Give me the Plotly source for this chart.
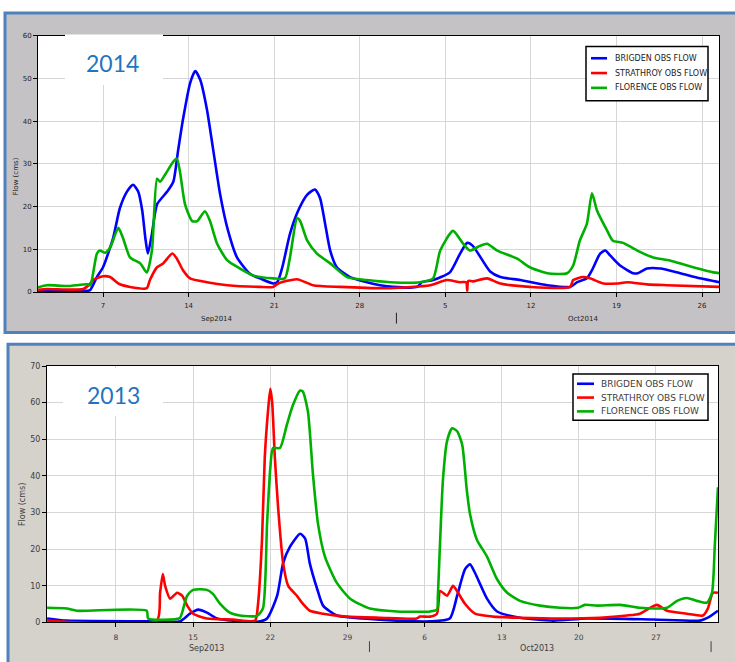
import plotly.graph_objects as go

W, H = 735, 662

# ---------------- 2014 data (flow, cms) ----------------
t14_brigden = ["2014-09-01 16:00", "2014-09-05 18:00", "2014-09-05 23:00", "2014-09-06 12:00", "2014-09-07 00:00",
               "2014-09-07 20:00", "2014-09-08 09:00", "2014-09-08 23:00", "2014-09-09 11:00", "2014-09-09 21:00",
               "2014-09-10 05:00", "2014-09-10 11:00", "2014-09-10 16:00", "2014-09-11 00:00", "2014-09-11 10:00",
               "2014-09-12 06:00", "2014-09-12 18:00", "2014-09-13 03:00", "2014-09-13 13:00", "2014-09-14 03:00",
               "2014-09-14 13:00", "2014-09-14 23:00", "2014-09-15 12:00", "2014-09-16 00:00", "2014-09-16 14:00",
               "2014-09-17 04:00", "2014-09-17 23:00", "2014-09-19 01:00", "2014-09-19 20:00", "2014-09-20 22:00",
               "2014-09-21 06:00", "2014-09-21 16:00", "2014-09-22 07:00", "2014-09-22 23:00", "2014-09-23 17:00",
               "2014-09-24 08:00", "2014-09-24 18:00", "2014-09-25 04:00", "2014-09-25 14:00", "2014-09-26 03:00",
               "2014-09-27 05:00", "2014-09-28 14:00", "2014-09-29 16:00", "2014-09-30 17:00", "2014-10-02 17:00",
               "2014-10-03 02:00", "2014-10-04 00:00", "2014-10-05 09:00", "2014-10-06 05:00", "2014-10-06 19:00",
               "2014-10-07 06:00", "2014-10-08 16:00", "2014-10-09 12:00", "2014-10-11 03:00", "2014-10-13 08:00",
               "2014-10-15 05:00", "2014-10-15 19:00", "2014-10-16 14:00", "2014-10-17 00:00", "2014-10-17 16:00",
               "2014-10-18 02:00", "2014-10-18 12:00", "2014-10-19 07:00", "2014-10-20 09:00", "2014-10-20 18:00",
               "2014-10-21 12:00", "2014-10-22 14:00", "2014-10-24 05:00", "2014-10-25 20:00", "2014-10-27 10:00"]
q14_brigden = [0.3, 0.3, 0.5, 3.5, 5.8,
               12.7, 19.6, 23.5, 25.1, 23.5,
               19.0, 12.7, 9.0, 13.6, 20.5,
               23.5, 25.8, 32.8, 40.4, 48.9,
               51.7, 49.6, 42.7, 33.5, 22.8,
               15.0, 8.1, 4.2, 3.2, 2.0,
               2.3, 5.8, 13.6, 19.0, 22.8,
               24.0, 22.0, 16.0, 9.7, 5.8,
               3.5, 2.3, 1.6, 1.2, 1.2,
               2.3, 2.8, 4.6, 9.0, 11.5,
               10.8, 4.8, 3.5, 2.8, 1.6,
               1.2, 2.3, 3.2, 5.1, 9.0,
               9.7, 8.5, 6.2, 4.4, 4.4,
               5.5, 5.5, 4.4, 3.2, 2.3]

t14_strathroy = ["2014-09-01 16:00", "2014-09-02 10:00", "2014-09-05 09:00", "2014-09-05 23:00", "2014-09-06 04:00",
                 "2014-09-07 00:00", "2014-09-07 14:00", "2014-09-08 06:00", "2014-09-09 05:00", "2014-09-10 14:00",
                 "2014-09-10 20:00", "2014-09-11 10:00", "2014-09-11 22:00", "2014-09-12 16:00", "2014-09-13 01:00",
                 "2014-09-13 13:00", "2014-09-14 03:00", "2014-09-15 12:00", "2014-09-17 04:00", "2014-09-19 20:00",
                 "2014-09-20 22:00", "2014-09-21 08:00", "2014-09-22 21:00", "2014-09-24 04:00", "2014-09-26 09:00",
                 "2014-09-30 12:00", "2014-10-03 18:00", "2014-10-05 03:00", "2014-10-06 05:00", "2014-10-06 17:00",
                 "2014-10-06 19:00", "2014-10-06 21:00", "2014-10-07 06:00", "2014-10-08 10:00", "2014-10-09 12:00",
                 "2014-10-11 22:00", "2014-10-15 05:00", "2014-10-15 11:00", "2014-10-16 06:00", "2014-10-16 20:00",
                 "2014-10-17 22:00", "2014-10-19 01:00", "2014-10-19 21:00", "2014-10-21 12:00", "2014-10-23 03:00",
                 "2014-10-27 12:00"]
q14_strathroy = [0.5, 0.7, 0.7, 2.0, 2.8,
                 3.7, 3.5, 2.0, 1.2, 0.9,
                 2.8, 5.8, 6.7, 9.0, 7.8,
                 5.1, 3.2, 2.3, 1.6, 1.2,
                 1.2, 2.0, 3.0, 1.6, 1.2,
                 0.9, 1.6, 2.8, 2.3, 2.3,
                 0.3, 2.6, 2.5, 3.2, 2.0,
                 1.2, 1.2, 2.8, 3.5, 3.2,
                 2.0, 2.0, 2.3, 1.8, 1.6,
                 1.2]

t14_florence = ["2014-09-01 16:00", "2014-09-02 10:00", "2014-09-04 01:00", "2014-09-05 17:00", "2014-09-05 23:00",
                "2014-09-06 12:00", "2014-09-06 18:00", "2014-09-07 04:00", "2014-09-07 14:00", "2014-09-08 06:00",
                "2014-09-08 15:00", "2014-09-09 05:00", "2014-09-10 01:00", "2014-09-10 14:00", "2014-09-11 00:00",
                "2014-09-11 10:00", "2014-09-11 16:00", "2014-09-12 02:00", "2014-09-12 18:00", "2014-09-13 01:00",
                "2014-09-13 07:00", "2014-09-13 17:00", "2014-09-14 07:00", "2014-09-14 17:00", "2014-09-15 08:00",
                "2014-09-15 18:00", "2014-09-16 08:00", "2014-09-17 04:00", "2014-09-18 05:00", "2014-09-19 06:00",
                "2014-09-20 22:00", "2014-09-21 21:00", "2014-09-22 07:00", "2014-09-22 21:00", "2014-09-23 03:00",
                "2014-09-23 17:00", "2014-09-24 12:00", "2014-09-25 14:00", "2014-09-26 23:00", "2014-09-28 14:00",
                "2014-09-30 12:00", "2014-10-02 22:00", "2014-10-04 00:00", "2014-10-04 14:00", "2014-10-05 15:00",
                "2014-10-06 11:00", "2014-10-07 00:00", "2014-10-07 20:00", "2014-10-08 10:00", "2014-10-09 06:00",
                "2014-10-10 21:00", "2014-10-11 22:00", "2014-10-13 08:00", "2014-10-14 23:00", "2014-10-15 11:00",
                "2014-10-16 00:00", "2014-10-16 14:00", "2014-10-17 00:00", "2014-10-17 10:00", "2014-10-18 06:00",
                "2014-10-18 17:00", "2014-10-19 13:00", "2014-10-20 17:00", "2014-10-22 00:00", "2014-10-23 09:00",
                "2014-10-24 19:00", "2014-10-26 22:00", "2014-10-27 12:00"]
q14_florence = [1.1, 1.6, 1.4, 1.8, 1.6,
                9.0, 9.7, 9.2, 10.4, 15.0,
                12.7, 8.1, 6.7, 4.6, 9.7,
                26.5, 25.8, 27.5, 30.5, 31.2,
                28.2, 20.5, 16.6, 16.6, 18.9,
                16.6, 11.3, 7.4, 5.5, 3.9,
                3.2, 3.2, 8.1, 17.3, 16.6,
                12.0, 9.0, 6.7, 3.5, 2.8,
                2.3, 2.3, 3.2, 9.7, 14.3,
                11.3, 9.7, 10.8, 11.3, 9.7,
                7.8, 5.8, 4.4, 4.4, 6.2,
                12.0, 16.0, 23.1, 19.0, 14.3,
                12.0, 11.5, 9.7, 8.1, 7.4,
                6.2, 4.6, 4.4]

# ---------------- 2013 data (flow, cms) ----------------
t13_brigden = ["2013-09-01 18:00", "2013-09-03 13:00", "2013-09-11 17:00", "2013-09-13 19:00", "2013-09-14 17:00",
               "2013-09-15 11:00", "2013-09-16 06:00", "2013-09-17 04:00", "2013-09-18 15:00", "2013-09-20 19:00",
               "2013-09-21 17:00", "2013-09-22 15:00", "2013-09-23 04:00", "2013-09-23 19:00", "2013-09-24 17:00",
               "2013-09-25 04:00", "2013-09-25 14:00", "2013-09-26 06:00", "2013-09-26 19:00", "2013-09-28 01:00",
               "2013-09-30 10:00", "2013-10-03 12:00", "2013-10-06 12:00", "2013-10-08 07:00", "2013-10-08 23:00",
               "2013-10-09 16:00", "2013-10-10 03:00", "2013-10-10 14:00", "2013-10-11 16:00", "2013-10-12 14:00",
               "2013-10-14 16:00", "2013-10-17 16:00", "2013-10-20 18:00", "2013-10-26 18:00", "2013-10-31 00:00",
               "2013-10-31 17:00", "2013-11-01 15:00"]
q13_brigden = [1.1, 0.5, 0.3, 0.3, 2.4,
               3.5, 2.7, 1.1, 0.5, 0.2,
               1.1, 7.3, 16.2, 20.7, 24.2,
               22.9, 16.2, 9.2, 4.6, 1.9,
               1.1, 0.5, 0.3, 1.1, 7.3,
               14.5, 15.9, 13.5, 6.5, 3.0,
               1.3, 0.5, 1.1, 0.8, 0.5,
               1.3, 3.2]

t13_strathroy = ["2013-09-01 18:00", "2013-09-11 17:00", "2013-09-12 00:00", "2013-09-12 06:00", "2013-09-12 11:00",
                 "2013-09-12 22:00", "2013-09-13 13:00", "2013-09-14 00:00", "2013-09-14 11:00", "2013-09-15 00:00",
                 "2013-09-16 06:00", "2013-09-18 15:00", "2013-09-20 15:00", "2013-09-20 21:00", "2013-09-21 06:00",
                 "2013-09-21 12:00", "2013-09-21 19:00", "2013-09-22 00:00", "2013-09-22 04:00", "2013-09-22 10:00",
                 "2013-09-22 17:00", "2013-09-23 04:00", "2013-09-23 15:00", "2013-09-24 10:00", "2013-09-24 21:00",
                 "2013-09-25 14:00", "2013-09-26 19:00", "2013-09-28 23:00", "2013-10-01 23:00", "2013-10-05 07:00",
                 "2013-10-05 14:00", "2013-10-06 12:00", "2013-10-07 03:00", "2013-10-07 10:00", "2013-10-08 01:00",
                 "2013-10-08 14:00", "2013-10-09 01:00", "2013-10-09 16:00", "2013-10-10 14:00", "2013-10-12 05:00",
                 "2013-10-14 16:00", "2013-10-18 07:00", "2013-10-21 22:00", "2013-10-24 09:00", "2013-10-25 13:00",
                 "2013-10-26 11:00", "2013-10-27 02:00", "2013-10-28 00:00", "2013-10-29 19:00", "2013-10-31 06:00",
                 "2013-10-31 17:00", "2013-11-01 04:00", "2013-11-01 15:00"]
q13_strathroy = [0.5, 0.5, 8.1, 13.2, 10.0,
                 6.5, 8.1, 7.3, 4.6, 2.4,
                 1.1, 0.8, 0.5, 4.6, 22.6,
                 45.0, 57.6, 63.8, 60.3, 45.0,
                 31.5, 16.2, 10.0, 7.3, 5.4,
                 3.2, 2.4, 1.6, 1.3, 1.1,
                 1.6, 1.6, 2.4, 8.6, 7.3,
                 10.0, 8.1, 5.1, 2.4, 1.6,
                 1.3, 1.1, 1.3, 1.9, 2.4,
                 4.0, 4.8, 3.2, 2.4, 1.9,
                 3.8, 8.1, 8.1]

t13_florence = ["2013-09-01 18:00", "2013-09-03 13:00", "2013-09-04 11:00", "2013-09-10 19:00", "2013-09-10 22:00",
                "2013-09-13 19:00", "2013-09-14 00:00", "2013-09-14 11:00", "2013-09-15 00:00", "2013-09-16 06:00",
                "2013-09-16 19:00", "2013-09-17 11:00", "2013-09-18 08:00", "2013-09-19 06:00", "2013-09-20 19:00",
                "2013-09-21 08:00", "2013-09-21 17:00", "2013-09-22 00:00", "2013-09-22 06:00", "2013-09-22 21:00",
                "2013-09-23 12:00", "2013-09-24 01:00", "2013-09-24 17:00", "2013-09-24 23:00", "2013-09-25 10:00",
                "2013-09-25 21:00", "2013-09-26 08:00", "2013-09-26 23:00", "2013-09-28 01:00", "2013-09-29 06:00",
                "2013-10-01 01:00", "2013-10-03 12:00", "2013-10-06 12:00", "2013-10-07 03:00", "2013-10-07 05:00",
                "2013-10-07 16:00", "2013-10-08 01:00", "2013-10-08 12:00", "2013-10-08 23:00", "2013-10-09 10:00",
                "2013-10-09 20:00", "2013-10-10 03:00", "2013-10-10 18:00", "2013-10-11 16:00", "2013-10-12 14:00",
                "2013-10-13 12:00", "2013-10-14 16:00", "2013-10-16 11:00", "2013-10-18 07:00", "2013-10-19 22:00",
                "2013-10-20 13:00", "2013-10-21 16:00", "2013-10-23 18:00", "2013-10-25 13:00", "2013-10-27 02:00",
                "2013-10-28 00:00", "2013-10-28 22:00", "2013-10-29 19:00", "2013-10-30 17:00", "2013-10-31 15:00",
                "2013-11-01 02:00", "2013-11-01 08:00", "2013-11-01 15:00"]
q13_florence = [4.0, 3.8, 3.2, 3.2, 1.1,
                1.2, 2.7, 7.3, 8.9, 8.9,
                7.8, 5.1, 2.7, 1.9, 1.8,
                3.8, 27.0, 42.0, 47.6, 47.6,
                53.9, 59.2, 63.3, 63.0, 57.6,
                40.4, 26.9, 18.0, 10.8, 6.5,
                3.8, 3.0, 3.0, 3.5, 7.3,
                38.8, 49.5, 53.0, 52.2, 48.5,
                36.1, 29.6, 22.6, 18.0, 11.8,
                8.1, 5.9, 4.6, 4.0, 4.0,
                4.8, 4.6, 4.8, 4.0, 3.8,
                4.0, 5.9, 6.7, 5.9, 5.4,
                8.1, 20.7, 36.9]

series_names = ["BRIGDEN OBS FLOW", "STRATHROY OBS FLOW", "FLORENCE OBS FLOW"]
series_colors = ["#0000ff", "#ff0000", "#00b000"]
y_ticks_2014 = [0, 10, 20, 30, 40, 50, 60]
y_ticks_2013 = [0, 10, 20, 30, 40, 50, 60, 70]


def px_x(p):
    return p / W


def px_y(p):
    return 1 - p / H


fig = go.Figure()

top_sets = [(t14_brigden, q14_brigden), (t14_strathroy, q14_strathroy), (t14_florence, q14_florence)]
bot_sets = [(t13_brigden, q13_brigden), (t13_strathroy, q13_strathroy), (t13_florence, q13_florence)]

for (t, q), name, col in zip(top_sets, series_names, series_colors):
    fig.add_trace(go.Scatter(x=t, y=q, name=name, mode="lines", xaxis="x", yaxis="y",
                             line=dict(color=col, width=2.6, shape="spline", smoothing=0.6),
                             showlegend=False))
for (t, q), name, col in zip(bot_sets, series_names, series_colors):
    fig.add_trace(go.Scatter(x=t, y=q, name=name, mode="lines", xaxis="x2", yaxis="y2",
                             line=dict(color=col, width=2.6, shape="spline", smoothing=0.6),
                             showlegend=False))

# plot area pixel geometry
TOP = dict(l=38, r=719, t=32, b=292)
BOT = dict(l=47, r=718, t=367, b=627)

ax_common = dict(showline=True, mirror=True, linecolor="#000000", linewidth=1,
                 showgrid=True, gridcolor="#d6d6d6", gridwidth=1, zeroline=False,
                 ticks="outside", ticklen=4, tickcolor="#000000")

fig.update_layout(
    width=W, height=H, autosize=False,
    margin=dict(l=0, r=0, t=0, b=0),
    paper_bgcolor="#ffffff", plot_bgcolor="rgba(0,0,0,0)",
    showlegend=False,
    xaxis=dict(domain=[px_x(TOP["l"]), px_x(TOP["r"])], anchor="y", type="date",
               range=["2014-09-01 16:20", "2014-10-27 09:20"],
               tick0="2014-09-07", dtick=7 * 86400000, tickformat="%-d", ticklabelstandoff=3,
               tickfont=dict(family="DejaVu Sans", size=7, color="#222222"), **ax_common),
    yaxis=dict(domain=[px_y(TOP["b"]), px_y(TOP["t"])], anchor="x", range=[0, 60],
               tickvals=y_ticks_2014,
               tickfont=dict(family="DejaVu Sans", size=7, color="#222222"), **ax_common),
    xaxis2=dict(domain=[px_x(BOT["l"]), px_x(BOT["r"])], anchor="y2", type="date",
                range=["2013-09-01 17:45", "2013-11-01 15:05"],
                tick0="2013-09-08", dtick=7 * 86400000, tickformat="%-d", ticklabelstandoff=4,
                tickfont=dict(family="DejaVu Sans", size=7.5, color="#404040"), **ax_common),
    yaxis2=dict(domain=[px_y(BOT["b"]), px_y(BOT["t"])], anchor="x2", range=[0, 70],
                tickvals=y_ticks_2013,
                tickfont=dict(family="DejaVu Sans", size=8, color="#404040"), **ax_common),
)

shapes = []
# panel frames
shapes.append(dict(type="rect", xref="paper", yref="paper", layer="below",
                   x0=px_x(5), x1=px_x(760), y0=px_y(333), y1=px_y(9),
                   fillcolor="#c4c2c4", line=dict(color="#4f81bd", width=3)))
shapes.append(dict(type="rect", xref="paper", yref="paper", layer="below",
                   x0=px_x(8), x1=px_x(760), y0=px_y(700), y1=px_y(345),
                   fillcolor="#d5d1cb", line=dict(color="#4f81bd", width=3)))
# white plot areas
for g in (TOP, BOT):
    shapes.append(dict(type="rect", xref="paper", yref="paper", layer="below",
                       x0=px_x(g["l"]), x1=px_x(g["r"]), y0=px_y(g["b"]), y1=px_y(g["t"]),
                       fillcolor="#ffffff", line=dict(width=0)))
# white label boxes
shapes.append(dict(type="rect", xref="paper", yref="paper", layer="above",
                   x0=px_x(65), x1=px_x(163), y0=px_y(82), y1=px_y(31),
                   fillcolor="#ffffff", line=dict(width=0)))
shapes.append(dict(type="rect", xref="paper", yref="paper", layer="above",
                   x0=px_x(63), x1=px_x(163), y0=px_y(418), y1=px_y(369),
                   fillcolor="#ffffff", line=dict(width=0)))
# month separators
shapes.append(dict(type="line", xref="x", yref="paper", x0="2014-10-01", x1="2014-10-01",
                   y0=px_y(324), y1=px_y(313), line=dict(color="#222222", width=1)))
for d in ["2013-10-01", "2013-11-01"]:
    shapes.append(dict(type="line", xref="x2", yref="paper", x0=d, x1=d,
                       y0=px_y(657), y1=px_y(646), line=dict(color="#404040", width=1)))

C = dict(xanchor="center", yanchor="middle", showarrow=False)
annotations = [
    dict(text="Flow (cms)", xref="paper", yref="paper", x=px_x(16), y=px_y(175), textangle=-90,
         font=dict(family="DejaVu Sans", size=7, color="#222222"), **C),
    dict(text="Flow (cms)", xref="paper", yref="paper", x=px_x(22), y=px_y(508), textangle=-90,
         font=dict(family="DejaVu Sans", size=8, color="#404040"), **C),
    dict(text="2014", xref="paper", yref="paper", x=px_x(112), y=px_y(60),
         font=dict(family="Lato", size=23, color="#1f75be"), **C),
    dict(text="2013", xref="paper", yref="paper", x=px_x(113), y=px_y(396),
         font=dict(family="Lato", size=23, color="#1f75be"), **C),
    dict(text="Sep2014", xref="x", yref="paper", x="2014-09-16 08:00", y=px_y(319),
         font=dict(family="DejaVu Sans", size=7, color="#222222"), **C),
    dict(text="Oct2014", xref="x", yref="paper", x="2014-10-16 06:00", y=px_y(319),
         font=dict(family="DejaVu Sans", size=7, color="#222222"), **C),
    dict(text="Sep2013", xref="x2", yref="paper", x="2013-09-16 06:00", y=px_y(653),
         font=dict(family="DejaVu Sans", size=8, color="#404040"), **C),
    dict(text="Oct2013", xref="x2", yref="paper", x="2013-10-16 05:00", y=px_y(653),
         font=dict(family="DejaVu Sans", size=8, color="#404040"), **C),
]

# legends (one box per panel)
LEG = [
    dict(box=(586, 43, 708, 98), rows=(55, 70, 85), sx=(591, 607), tx=613, size=8, color="#222222"),
    dict(box=(573, 375, 708, 422), rows=(385, 399, 413), sx=(577, 594), tx=599, size=9, color="#404040"),
]
for lg in LEG:
    bx0, by0, bx1, by1 = lg["box"]
    shapes.append(dict(type="rect", xref="paper", yref="paper", layer="above",
                       x0=px_x(bx0), x1=px_x(bx1), y0=px_y(by1), y1=px_y(by0),
                       fillcolor="#ffffff", line=dict(color="#000000", width=1.5)))
    for ry, name, col in zip(lg["rows"], series_names, series_colors):
        shapes.append(dict(type="line", xref="paper", yref="paper", layer="above",
                           x0=px_x(lg["sx"][0]), x1=px_x(lg["sx"][1]), y0=px_y(ry), y1=px_y(ry),
                           line=dict(color=col, width=2.6)))
        annotations.append(dict(text=name, xref="paper", yref="paper", x=px_x(lg["tx"]), y=px_y(ry),
                                xanchor="left", yanchor="middle", showarrow=False,
                                font=dict(family="DejaVu Sans", size=lg["size"], color=lg["color"])))

fig.update_layout(shapes=shapes, annotations=annotations)

fig.write_html("out.html",
               config={"displayModeBar": False},
               post_script="document.body.style.margin='0';document.body.style.padding='0';"
                           "document.documentElement.style.overflow='hidden';")
